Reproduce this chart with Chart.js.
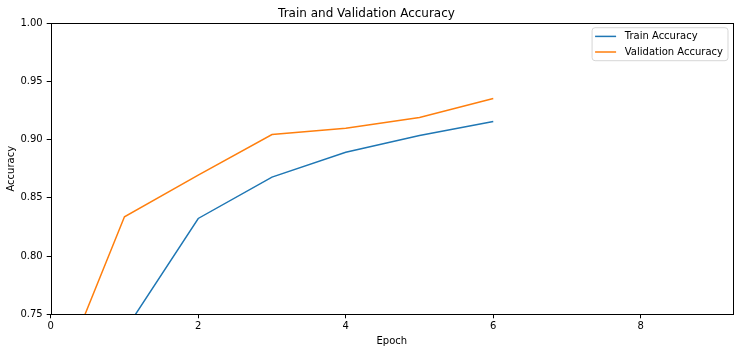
<!DOCTYPE html>
<html>
<head>
<meta charset="utf-8">
<script src="https://cdn.jsdelivr.net/npm/chart.js@4"></script>
<style>
  html, body { margin: 0; padding: 0; background: #fff; }
  #wrap { width: 739px; height: 352px; position: relative; }
</style>
</head>
<body>
<div id="wrap"><canvas id="c" width="739" height="352"></canvas></div>
<script>
const chartTitle = "Train and Validation Accuracy";
const xTitle = "Epoch";
const yTitle = "Accuracy";
const epochs = [0, 1, 2, 3, 4, 5, 6];
const trainAcc = [0.62, 0.7355, 0.8323, 0.8678, 0.8892, 0.9035, 0.9155];
const valAcc = [0.677, 0.8337, 0.8695, 0.9044, 0.9098, 0.919, 0.9353];
const seriesLabels = ["Train Accuracy", "Validation Accuracy"];
const seriesColors = ["#1f77b4", "#ff7f0e"];
const xTicks = [0, 2, 4, 6, 8];
const yTicks = [0.75, 0.80, 0.85, 0.90, 0.95, 1.00];
const xMin = 0, xMax = 9.25, yMin = 0.75, yMax = 1.0;

const FONT = "'DejaVu Sans', sans-serif";

const framePlugin = {
  id: 'frame',
  afterDatasetsDraw(chart) {
    const {ctx, chartArea: a} = chart;
    ctx.save();
    ctx.strokeStyle = '#000';
    ctx.lineWidth = 1;
    ctx.strokeRect(Math.round(a.left) + 0.5, Math.round(a.top) + 0.5,
                   Math.round(a.right - a.left), Math.round(a.bottom - a.top));
    ctx.restore();
  }
};

const legendPlugin = {
  id: 'mplLegend',
  afterDraw(chart) {
    const {ctx, chartArea: a} = chart;
    const ds = chart.data.datasets;
    ctx.save();
    ctx.font = "10px " + FONT;
    let maxW = 0;
    ds.forEach(d => { maxW = Math.max(maxW, ctx.measureText(d.label).width); });
    const rowH = 15.6;
    const boxW = 32.7 + maxW + 5;
    const boxH = 17.4 + rowH * (ds.length - 1);
    const x0 = a.right - 5 - boxW;
    const y0 = a.top + 4.5;
    const r = 3;
    ctx.beginPath();
    ctx.moveTo(x0 + r, y0);
    ctx.lineTo(x0 + boxW - r, y0);
    ctx.quadraticCurveTo(x0 + boxW, y0, x0 + boxW, y0 + r);
    ctx.lineTo(x0 + boxW, y0 + boxH - r);
    ctx.quadraticCurveTo(x0 + boxW, y0 + boxH, x0 + boxW - r, y0 + boxH);
    ctx.lineTo(x0 + r, y0 + boxH);
    ctx.quadraticCurveTo(x0, y0 + boxH, x0, y0 + boxH - r);
    ctx.lineTo(x0, y0 + r);
    ctx.quadraticCurveTo(x0, y0, x0 + r, y0);
    ctx.closePath();
    ctx.fillStyle = 'rgba(255,255,255,0.8)';
    ctx.fill();
    ctx.strokeStyle = 'rgba(204,204,204,0.8)';
    ctx.lineWidth = 1;
    ctx.stroke();
    ds.forEach((d, i) => {
      const cy = y0 + 8.7 + rowH * i;
      ctx.strokeStyle = d.borderColor;
      ctx.lineWidth = 1.5;
      ctx.beginPath();
      ctx.moveTo(x0 + 3, cy);
      ctx.lineTo(x0 + 24, cy);
      ctx.stroke();
      ctx.fillStyle = '#000';
      ctx.textBaseline = 'middle';
      ctx.textAlign = 'left';
      ctx.fillText(d.label, x0 + 32.7, cy);
    });
    ctx.restore();
  }
};

const toPts = (ys) => epochs.map((e, i) => ({x: e, y: ys[i]}));

new Chart(document.getElementById('c'), {
  type: 'line',
  data: {
    datasets: [
      { label: seriesLabels[0], data: toPts(trainAcc), borderColor: seriesColors[0],
        backgroundColor: seriesColors[0], borderWidth: 1.5, pointRadius: 0, tension: 0, fill: false },
      { label: seriesLabels[1], data: toPts(valAcc), borderColor: seriesColors[1],
        backgroundColor: seriesColors[1], borderWidth: 1.5, pointRadius: 0, tension: 0, fill: false }
    ]
  },
  options: {
    responsive: false,
    animation: false,
    layout: { padding: { left: 0, right: 6, top: 0, bottom: 0 } },
    plugins: {
      legend: { display: false },
      tooltip: { enabled: false },
      title: {
        display: true, text: chartTitle, color: '#000',
        font: { family: FONT, size: 12, weight: 'normal' },
        padding: { top: 6.5, bottom: 2.3 }
      }
    },
    scales: {
      x: {
        type: 'linear', min: xMin, max: xMax,
        afterBuildTicks: (s) => { s.ticks = xTicks.map(v => ({value: v})); },
        afterFit: (s) => { s.height = 37.7; },
        ticks: { color: '#000', font: { family: FONT, size: 10 }, padding: 2, maxRotation: 0,
                 callback: (v) => String(v) },
        grid: { drawOnChartArea: false, drawTicks: true, tickLength: 4, tickColor: '#000', tickWidth: 1 },
        border: { display: false },
        title: { display: true, text: xTitle, color: '#000', font: { family: FONT, size: 10 },
                 padding: { top: 0, bottom: 4.5 } }
      },
      y: {
        type: 'linear', min: yMin, max: yMax,
        afterBuildTicks: (s) => { s.ticks = yTicks.map(v => ({value: v})); },
        afterFit: (s) => { s.width = 50.7; },
        ticks: { color: '#000', font: { family: FONT, size: 10 }, padding: 4,
                 callback: (v) => Number(v).toFixed(2) },
        grid: { drawOnChartArea: false, drawTicks: true, tickLength: 4, tickColor: '#000', tickWidth: 1 },
        border: { display: false },
        title: { display: true, text: yTitle, color: '#000', font: { family: FONT, size: 10 },
                 padding: { top: 5.7, bottom: 0 } }
      }
    }
  },
  plugins: [framePlugin, legendPlugin]
});
</script>
</body>
</html>
